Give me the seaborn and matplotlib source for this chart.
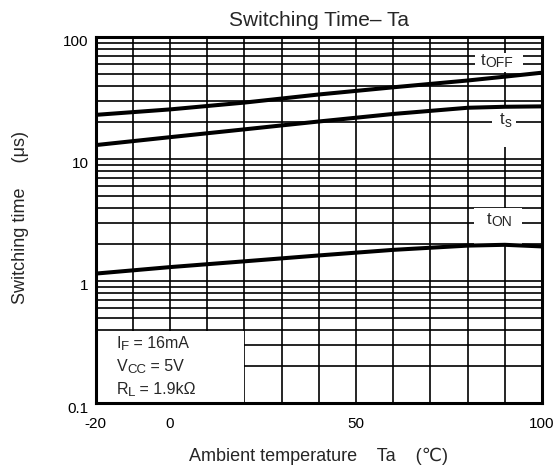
import numpy as np
import pandas as pd
import matplotlib
matplotlib.use("Agg")
import matplotlib.pyplot as plt
import matplotlib.transforms as mtransforms
from matplotlib.patches import Rectangle
from matplotlib.ticker import FixedLocator, LogLocator, NullFormatter
import seaborn as sns

# Switching time vs ambient temperature (IF = 16 mA, VCC = 5 V, RL = 1.9 kΩ)
ta = [-20, 0, 20, 40, 60, 80, 90, 100]
t_off = [23.0, 25.5, 29.0, 33.8, 38.7, 44.0, 47.3, 51.0]
t_s = [13.0, 15.1, 17.5, 20.3, 23.4, 26.3, 26.8, 27.0]
t_on = [1.15, 1.30, 1.45, 1.62, 1.80, 1.95, 1.98, 1.92]

curve_names = ["tOFF", "ts", "tON"]
x_tick_values = [-20, 0, 50, 100]
x_tick_labels = ["-20", "0", "50", "100"]
y_tick_values = [0.1, 1, 10, 100]
y_tick_labels = ["0.1", "1", "10", "100"]

df = pd.DataFrame({
    "Ta": ta * 3,
    "time": t_off + t_s + t_on,
    "curve": [c for c in curve_names for _ in ta],
})

sns.set_style("white")
plt.rcParams["font.family"] = ["Liberation Sans", "DejaVu Sans"]

fig = plt.figure(figsize=(5.59, 4.73), dpi=100)
W, H = 559, 473
left, right, top, bottom = 95.7, 542.0, 37.0, 403.0
ax = fig.add_axes([left / W, 1 - bottom / H, (right - left) / W, (bottom - top) / H])

ax.set_yscale("log")
ax.set_xlim(-20, 100)
ax.set_ylim(0.1, 100)
ax.set_axisbelow(True)

# grid: every 10 °C, and 1..9 within each decade
ax.xaxis.set_major_locator(FixedLocator(list(range(-20, 101, 10))))
ax.set_xticklabels([x_tick_labels[x_tick_values.index(v)] if v in x_tick_values else ""
                    for v in range(-20, 101, 10)])
ax.yaxis.set_major_locator(FixedLocator(y_tick_values))
ax.set_yticklabels(y_tick_labels)
ax.yaxis.set_minor_locator(LogLocator(base=10, subs=np.arange(2, 10)))
ax.yaxis.set_minor_formatter(NullFormatter())
ax.grid(True, which="both", axis="both", color="black", linewidth=1.2)
ax.tick_params(which="both", length=0, labelsize=11, colors="black")
ax.tick_params(axis="x", pad=10)
ax.tick_params(axis="y", pad=5)

for sp in ax.spines.values():
    sp.set_color("black")
    sp.set_linewidth(2.2)

# blank panels behind the condition block and curve labels
mask_kw = dict(facecolor="white", edgecolor="none", zorder=1)
ax.add_patch(Rectangle((-20, 0.1), 39.75, 0.392 - 0.1, **mask_kw))
ax.add_patch(Rectangle((82.0, 52.0), 13.0, 74.0 - 52.0, **mask_kw))
ax.add_patch(Rectangle((86.6, 12.5), 6.4, 26.5 - 12.5, **mask_kw))
ax.add_patch(Rectangle((81.7, 1.99), 13.0, 3.95 - 1.99, **mask_kw))

sns.lineplot(data=df, x="Ta", y="time", hue="curve", palette=["black"] * 3,
             legend=False, linewidth=2.9, ax=ax, zorder=3)


def subscripted(x, y, main, sub, rest="", size=11.5, subsize=9.5):
    """Write main text with a lowered subscript, then the remainder."""
    t = ax.text(x, y, main, fontsize=size, ha="left", va="baseline", zorder=4)
    s = ax.annotate(sub, xy=(1, 0), xycoords=t, xytext=(0, -1.5),
                    textcoords="offset points", fontsize=subsize,
                    ha="left", va="bottom", zorder=4)
    if rest:
        ax.annotate(rest, xy=(1, 0), xycoords=s, xytext=(0, 1.5),
                    textcoords="offset points", fontsize=size,
                    ha="left", va="bottom", zorder=4)


subscripted(83.5, 58.9, "t", "OFF", size=12, subsize=10)
subscripted(88.7, 19.2, "t", "s", size=12, subsize=10)
subscripted(85.1, 2.92, "t", "ON", size=12, subsize=10)

subscripted(-14.4, 0.2805, "I", "F", " = 16mA")
subscripted(-14.4, 0.184, "V", "CC", " = 5V")
subscripted(-14.4, 0.1186, "R", "L", " = 1.9kΩ")

ax.set_title("Switching Time– Ta", fontsize=15, pad=8.0)
ax.set_xlabel("Ambient temperature    Ta    (℃)", fontsize=13)
ax.set_ylabel("Switching time     (μs)", fontsize=13)
ax.xaxis.set_label_coords(0.5, (bottom - 456.7) / (bottom - top))
ax.xaxis.label.set_va("center")
ax.yaxis.set_label_coords((21 - left) / (right - left), 0.5 + (220 - 217) / (bottom - top))
ax.yaxis.label.set_va("center")

# nudge decade labels slightly below their grid lines
shift = mtransforms.ScaledTranslation(0, -4 / 100, fig.dpi_scale_trans)
for lab in ax.get_yticklabels():
    lab.set_transform(lab.get_transform() + shift)

fig.savefig("out.png", dpi=100, facecolor="white")
